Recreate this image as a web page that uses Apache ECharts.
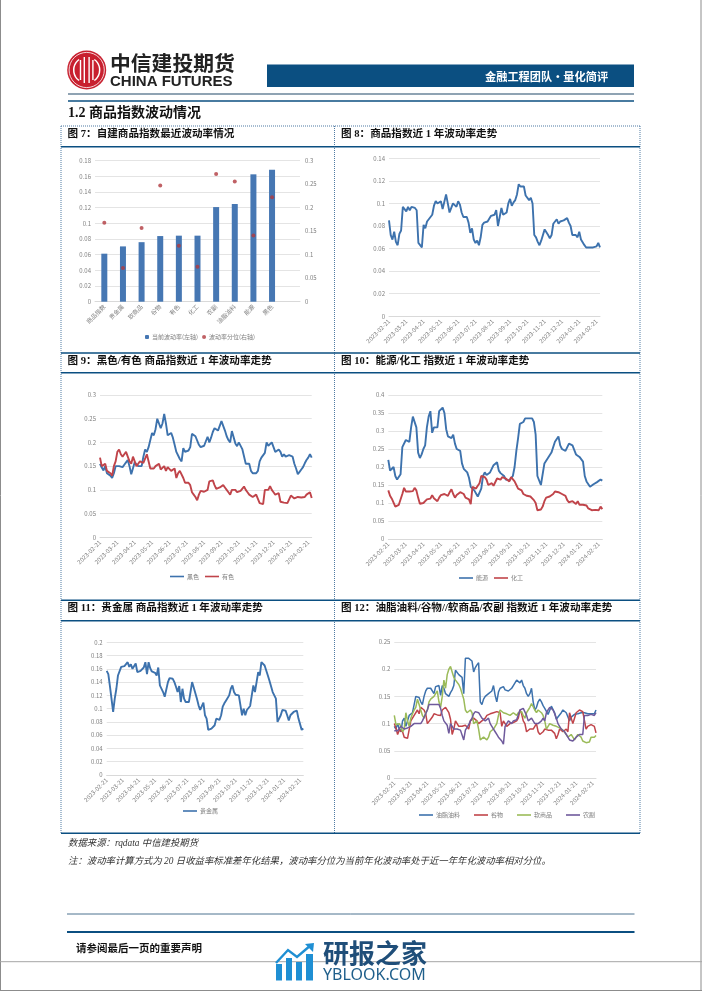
<!DOCTYPE html>
<html>
<head>
<meta charset="utf-8">
<script src="https://cdn.jsdelivr.net/npm/echarts@6/dist/echarts.min.js"></script>
<style>html,body{margin:0;padding:0;background:#fff}#c{width:702px;height:991px}</style>
</head>
<body>
<div id="c"></div>
<script>
// ---------- data ----------
const monthTicks = ['2023-02-21','2023-03-21','2023-04-21','2023-05-21','2023-06-21','2023-07-21','2023-08-21','2023-09-21','2023-10-21','2023-11-21','2023-12-21','2024-01-21','2024-02-21'];
const sectors = ['商品指数','贵金属','软商品','谷物','有色','化工','农副','油脂油料','能源','黑色',''];
const curVol = [0.0613,0.0706,0.076,0.0838,0.0843,0.0843,0.1208,0.1247,0.1626,0.1685,null];
const volPct = [0.168,0.0716,0.157,0.2475,0.119,0.0745,0.2716,0.256,0.141,0.222,null];

const commodity = [
.085,.072,.068,.075,.066,.063,.073,.076,.097,.097,
.093,.097,.094,.097,.096,.096,.094,.065,.063,.061,
.081,.078,.084,.086,.088,.09,.098,.102,.1,.099,
.102,.095,.094,.108,.1,.092,.096,.1,.101,.097,
.102,.099,.092,.088,.088,.088,.083,.074,.078,.068,
.065,.067,.063,.07,.081,.083,.083,.084,.085,.089,
.09,.09,.094,.08,.088,.096,.09,.091,.092,.1,
.104,.098,.101,.103,.108,.117,.115,.114,.115,.107,
.106,.103,.105,.1,.072,.07,.066,.063,.067,.068,
.077,.076,.072,.069,.072,.082,.082,.086,.082,.084,
.085,.085,.085,.087,.083,.08,.072,.071,.072,.07,
.075,.068,.067,.063,.061,.061,.061,.061,.061,.06,
.062,.065,.061];
const black = [
.155,.147,.141,.15,.135,.137,.13,.125,.135,.15,
.152,.15,.146,.148,.153,.158,.163,.15,.133,.137,
.158,.155,.15,.15,.15,.17,.185,.18,.19,.205,
.22,.215,.228,.25,.24,.23,.24,.26,.24,.215,
.213,.22,.21,.195,.18,.18,.165,.16,.188,.18,
.176,.183,.19,.218,.218,.213,.21,.195,.19,.193,
.193,.19,.212,.2,.21,.222,.23,.227,.225,.228,
.245,.245,.225,.213,.205,.2,.224,.22,.198,.192,
.2,.2,.186,.19,.155,.152,.155,.14,.135,.135,
.135,.14,.16,.168,.172,.178,.2,.193,.192,.2,
.19,.18,.176,.185,.18,.17,.175,.17,.168,.173,
.175,.17,.155,.145,.133,.138,.143,.148,.156,.163,
.168,.175,.168];
const nonferrous = [
.168,.15,.148,.155,.14,.14,.135,.13,.15,.16,
.18,.185,.175,.17,.175,.18,.17,.16,.155,.17,
.172,.15,.155,.16,.158,.157,.155,.175,.178,.145,
.148,.145,.15,.15,.155,.143,.145,.15,.14,.148,
.148,.14,.142,.145,.125,.135,.14,.137,.125,.115,
.112,.115,.11,.095,.09,.085,.078,.09,.098,.095,
.096,.097,.1,.118,.117,.12,.11,.102,.105,.105,
.108,.11,.105,.1,.095,.09,.1,.098,.1,.095,
.095,.098,.1,.107,.1,.095,.09,.088,.085,.088,
.09,.088,.072,.068,.07,.1,.098,.1,.108,.1,
.095,.09,.09,.093,.075,.075,.073,.075,.072,.07,
.088,.085,.082,.083,.085,.084,.084,.084,.085,.09,
.094,.095,.083];
const energy = [
.22,.19,.19,.2,.175,.165,.162,.18,.255,.26,
.275,.27,.27,.31,.34,.335,.31,.24,.225,.235,
.25,.26,.31,.34,.355,.295,.31,.315,.31,.355,
.36,.365,.35,.305,.285,.28,.28,.29,.265,.25,
.25,.245,.21,.195,.19,.185,.17,.145,.14,.135,
.13,.118,.118,.14,.175,.185,.178,.18,.185,.19,
.205,.205,.213,.19,.183,.18,.175,.165,.165,.163,
.16,.175,.2,.245,.28,.32,.325,.325,.335,.337,
.335,.335,.335,.325,.29,.175,.178,.15,.15,.21,
.215,.225,.23,.24,.245,.27,.27,.285,.26,.25,
.245,.245,.25,.265,.265,.26,.26,.235,.232,.228,
.228,.215,.175,.16,.16,.145,.15,.152,.155,.158,
.16,.165,.162];
const chemical = [
.135,.12,.112,.11,.09,.092,.095,.1,.125,.142,
.132,.135,.132,.13,.133,.142,.135,.115,.098,.098,
.1,.105,.11,.112,.112,.122,.113,.11,.105,.115,
.122,.122,.125,.125,.12,.13,.138,.125,.115,.122,
.127,.13,.132,.125,.115,.113,.11,.097,.145,.14,
.14,.148,.155,.175,.175,.172,.165,.15,.155,.155,
.148,.145,.168,.168,.165,.172,.172,.168,.163,.16,
.172,.175,.16,.15,.14,.14,.135,.125,.122,.12,
.12,.118,.115,.108,.1,.08,.08,.082,.09,.105,
.115,.11,.118,.12,.125,.132,.13,.13,.127,.125,
.125,.12,.108,.102,.1,.105,.105,.097,.105,.095,
.095,.095,.095,.093,.085,.08,.08,.08,.081,.082,
.08,.09,.083];
const precious = [
.157,.152,.134,.133,.095,.115,.13,.15,.148,.163,
.165,.164,.165,.17,.163,.167,.16,.158,.168,.155,
.157,.157,.158,.162,.17,.152,.17,.161,.156,.155,
.154,.15,.162,.135,.135,.125,.118,.118,.14,.146,
.146,.145,.14,.133,.125,.134,.11,.13,.115,.11,
.11,.11,.125,.14,.132,.13,.115,.105,.098,.097,
.109,.09,.085,.068,.069,.07,.069,.075,.085,.085,
.083,.09,.103,.108,.112,.115,.12,.13,.135,.125,
.121,.12,.12,.105,.09,.1,.09,.098,.1,.104,
.103,.135,.125,.14,.155,.15,.17,.167,.165,.165,
.15,.142,.143,.125,.127,.115,.08,.08,.09,.098,
.098,.097,.09,.082,.09,.093,.095,.096,.097,.085,
.085,.068,.07];
const oilseed = [
.095,.09,.1,.09,.085,.105,.11,.095,.105,.115,
.118,.12,.135,.15,.148,.148,.14,.135,.15,.16,
.165,.165,.165,.165,.155,.168,.17,.17,.152,.17,
.165,.155,.152,.15,.157,.162,.17,.198,.195,.19,
.188,.185,.155,.22,.222,.22,.218,.215,.195,.203,
.208,.212,.14,.135,.145,.15,.153,.155,.152,.16,
.17,.152,.14,.158,.165,.165,.168,.162,.16,.16,
.16,.165,.17,.175,.18,.178,.175,.18,.17,.165,
.155,.15,.155,.165,.14,.125,.13,.14,.145,.14,
.133,.128,.125,.117,.12,.132,.13,.12,.108,.112,
.115,.12,.125,.122,.12,.117,.105,.112,.115,.117,
.12,.118,.12,.12,.12,.12,.119,.118,.115,.118,
.12,.118,.125];
const grain = [
.1,.092,.08,.088,.085,.085,.075,.075,.073,.073,
.105,.11,.115,.118,.125,.118,.13,.13,.125,.118,
.1,.103,.108,.112,.118,.118,.116,.115,.115,.125,
.128,.13,.127,.12,.108,.08,.09,.105,.1,.095,
.095,.095,.095,.097,.1,.09,.105,.108,.11,.108,
.105,.1,.1,.105,.105,.11,.115,.116,.118,.12,
.12,.12,.122,.125,.12,.095,.105,.1,.095,.097,
.1,.1,.102,.105,.105,.11,.125,.118,.105,.1,
.085,.088,.09,.09,.09,.09,.1,.085,.08,.083,
.085,.09,.09,.088,.085,.088,.09,.082,.072,.08,
.09,.088,.085,.087,.09,.085,.12,.11,.1,.11,
.12,.123,.125,.125,.122,.12,.09,.095,.095,.098,
.1,.095,.083];
const soft = [
.115,.098,.095,.1,.095,.085,.09,.12,.105,.095,
.11,.118,.125,.13,.145,.135,.125,.115,.11,.12,
.125,.14,.145,.148,.15,.155,.16,.14,.13,.15,
.18,.165,.19,.2,.205,.195,.185,.18,.178,.172,
.165,.165,.145,.125,.12,.12,.125,.12,.1,.1,
.105,.09,.07,.072,.075,.072,.07,.075,.085,.088,
.09,.095,.1,.115,.125,.122,.12,.12,.118,.115,
.115,.118,.12,.118,.115,.12,.118,.122,.115,.11,
.12,.125,.13,.137,.135,.125,.12,.125,.125,.12,
.115,.105,.09,.09,.1,.1,.097,.095,.095,.095,
.092,.09,.088,.085,.08,.075,.075,.08,.075,.07,
.075,.08,.082,.075,.068,.065,.065,.065,.066,.075,
.072,.075,.078];
const farm = [
.087,.087,.087,.09,.095,.092,.09,.09,.092,.095,
.095,.098,.1,.098,.1,.1,.1,.105,.108,.118,
.125,.135,.135,.135,.135,.135,.135,.135,.128,.115,
.105,.105,.097,.082,.1,.095,.09,.09,.09,.09,
.088,.085,.07,.088,.09,.098,.105,.11,.118,.122,
.122,.12,.115,.11,.108,.105,.105,.11,.1,.095,
.09,.085,.08,.075,.072,.068,.062,.095,.1,.105,
.105,.1,.105,.105,.107,.11,.125,.125,.128,.125,
.115,.105,.105,.11,.105,.1,.1,.1,.1,.105,
.11,.105,.12,.125,.13,.13,.125,.118,.11,.1,
.095,.09,.09,.085,.085,.075,.07,.07,.068,.07,
.075,.078,.08,.08,.08,.115,.115,.115,.115,.117,
.117,.115,.12];

// ten steps per month; labels only at month starts
const dates = [];
for (let i = 0; i < 123; i++) dates.push(i % 10 === 0 ? monthTicks[i / 10] : ' ' + i);

// ---------- style ----------
const NAVY='#0b4f81', GREY='#808080', GRID='#e4e4e4';
const BLUE='#3d72ad', RED='#c0444a', GREEN='#9bbb59', PURPLE='#6f5a9c';
const CJK="'Liberation Serif','Noto Sans CJK SC',sans-serif";
const SANS="'Noto Sans CJK SC',sans-serif";

const panels = [
 {left:95,  top:160.7,w:205,h:141,  max:.18,step:.02},
 {left:389, top:158.3,w:211,h:158,  max:.14,step:.02},
 {left:100, top:395,  w:211.7,h:142.3,max:.3,step:.05},
 {left:388.3,top:395, w:214,h:144,  max:.4, step:.05},
 {left:106.7,top:642.3,w:196.6,h:132.7,max:.2,step:.02},
 {left:394.3,top:642, w:201.7,h:136,max:.25,step:.05}
];
const grids=[], xAxes=[], yAxes=[], series=[];
panels.forEach((p,i)=>{
  grids.push({left:p.left,top:p.top,width:p.w,height:p.h,containLabel:false});
  xAxes.push({type:'category',gridIndex:i,data:i===0?sectors:dates,boundaryGap:i===0,
    axisLine:{lineStyle:{color:'#d9d9d9'}},axisTick:{show:false},
    axisLabel:{rotate:45,fontSize:6,color:GREY,fontFamily:SANS,margin:4,interval:i===0?0:9,hideOverlap:false}});
  yAxes.push({type:'value',gridIndex:i,min:0,max:p.max,interval:p.step,
    axisLine:{show:false},axisTick:{show:false},
    axisLabel:{fontSize:6,color:GREY,fontFamily:SANS,margin:4},
    splitLine:{lineStyle:{color:GRID,width:1}}});
});
yAxes.push({type:'value',gridIndex:0,position:'right',min:0,max:.3,interval:.05,
  axisLine:{show:false},axisTick:{show:false},splitLine:{show:false},
  axisLabel:{fontSize:6,color:GREY,fontFamily:SANS,margin:5}});

series.push({name:'当前波动率(左轴)',type:'bar',xAxisIndex:0,yAxisIndex:0,data:curVol,barWidth:6,itemStyle:{color:'#4677b3'}});
series.push({name:'波动率分位(右轴)',type:'scatter',xAxisIndex:0,yAxisIndex:6,data:volPct,symbolSize:4,itemStyle:{color:'#b0393f'}});
function line(name,idx,data,color,width){
  series.push({name,type:'line',xAxisIndex:idx,yAxisIndex:idx,data,showSymbol:false,symbol:'none',smooth:false,
    lineStyle:{color,width:width||1.9},itemStyle:{color}});
}
line('商品指数波动率',1,commodity,BLUE);
line('黑色',2,black,BLUE); line('有色',2,nonferrous,RED);
line('能源',3,energy,BLUE); line('化工',3,chemical,RED);
line('贵金属',4,precious,BLUE);
line('油脂油料',5,oilseed,BLUE,1.5); line('谷物',5,grain,RED,1.5); line('软商品',5,soft,GREEN,1.5); line('农副',5,farm,PURPLE,1.5);

function lg(names,left,top,w,h,gap,extra){
  return Object.assign({data:names,left,top,itemWidth:w,itemHeight:h,itemGap:gap,padding:0,orient:'horizontal',
    textStyle:{fontSize:6,color:GREY,fontFamily:SANS,padding:[0,0,0,-2]}},extra||{});
}
const legends=[
  lg(['当前波动率(左轴)','波动率分位(右轴)'],145,334,4,4,4),
  lg(['黑色','有色'],170,573.5,14,1.6,6,{icon:'rect'}),
  lg(['能源','化工'],459,575,14,1.6,6,{icon:'rect'}),
  lg(['贵金属'],183,808,14,1.6,6,{icon:'rect'}),
  lg(['油脂油料','谷物','软商品','农副'],419,812,14,1.6,14,{icon:'rect'})
];

// ---------- page furniture ----------
const g=[];
const rect=(x,y,w,h,fill,z)=>g.push({type:'rect',shape:{x,y,width:w,height:h},style:{fill},z:z||1,silent:true});
const seg=(x1,y1,x2,y2,stroke,lw,dash)=>g.push({type:'line',shape:{x1,y1,x2,y2},style:{stroke,lineWidth:lw,lineDash:dash||null},silent:true});
const txt=(x,y,text,font,fill,extra)=>g.push({type:'text',x,y,style:Object.assign({text,font,fill,textVerticalAlign:'middle',verticalAlign:'middle'},extra||{}),silent:true,z:5});

// page edge
seg(0.5,0,0.5,991,'#8c8c8c',1); seg(701,0,701,991,'#8c8c8c',1); seg(0,990.5,702,990.5,'#8c8c8c',1);
seg(0,961.7,702,961.7,'#a6a6a6',1);

// logo
g.push({type:'circle',shape:{cx:86.7,cy:70,r:19.5},style:{fill:'#c8202f'},silent:true,z:2});
g.push({type:'circle',shape:{cx:86.7,cy:70,r:17.6},style:{fill:'none',stroke:'#fff',lineWidth:.8},silent:true,z:3});
[[80.5,60,20],[84.3,57,26],[89.1,57,26],[92.9,60,20]].forEach(b=>rect(b[0]-.7,b[1],1.4,b[2],'#fff',3));
g.push({type:'arc',shape:{cx:86.7,cy:70,r:13,startAngle:Math.PI*.7,endAngle:Math.PI*1.3},style:{fill:'none',stroke:'#fff',lineWidth:1.5},silent:true,z:3});
g.push({type:'arc',shape:{cx:86.7,cy:70,r:13,startAngle:-Math.PI*.3,endAngle:Math.PI*.3},style:{fill:'none',stroke:'#fff',lineWidth:1.5},silent:true,z:3});
seg(72,70,78,70,'#fff',1.3); seg(95.5,70,101,70,'#fff',1.3);
txt(110,63.5,'中信建投期货',"bold 20.8px 'Noto Sans CJK SC'",'#222');
txt(110,81.5,'CHINA FUTURES',"bold 15px 'Liberation Sans'",'#222');

// header band
rect(267,64.5,367,22.5,NAVY);
txt(485,77,'金融工程团队·量化简评',"bold 11.2px 'Noto Sans CJK SC'",'#fff');
seg(68,94,634,94,'#8fa3b3',2); seg(68,101,634,101,NAVY,1.5);
txt(68,113,'1.2 商品指数波动情况',"bold 14px "+CJK,'#111');

// figure frame
const DOT='#4f7aa3';
seg(61,126,640,126,DOT,1,[1,1]); seg(61,126,61,833,DOT,1,[1,1]); seg(640,126,640,833,DOT,1,[1,1]); seg(334.5,126,334.5,833,DOT,1,[1,1]);
[146.7,353,372.7,600.3,620.7,833.3].forEach(y=>seg(61,y,640,y,NAVY,1.4));
const TF="bold 10.6px "+CJK;
txt(67.5,134.3,'图 7：自建商品指数最近波动率情况',TF,'#111');
txt(341,134.3,'图 8：商品指数近 1 年波动率走势',TF,'#111');
txt(67.5,361,'图 9：黑色/有色 商品指数近 1 年波动率走势',TF,'#111');
txt(341,361,'图 10：能源/化工 指数近 1 年波动率走势',TF,'#111');
txt(67.5,608.7,'图 11：贵金属 商品指数近 1 年波动率走势',TF,'#111');
txt(341,608.7,'图 12：油脂油料/谷物//软商品/农副 指数近 1 年波动率走势',TF,'#111');

// notes
txt(68,843.5,'数据来源：rqdata 中信建投期货',"italic 9.4px "+CJK,'#333');
txt(68,861.7,'注：波动率计算方式为 20 日收益率标准差年化结果，波动率分位为当前年化波动率处于近一年年化波动率相对分位。',"italic 9.4px "+CJK,'#333');

// footer
seg(67,914,634.5,914,'#4d7290',1); seg(67,932,634.5,932,NAVY,1.8);
txt(76,948.3,'请参阅最后一页的重要声明',"bold 10.5px 'Noto Sans CJK SC'",'#111');

// watermark
const WB='#1f8fd3';
rect(276,964,6,16.5,WB,6); rect(286,958,6,22.5,WB,6); rect(296,962,6,18.5,WB,6); rect(306,954,7,26.5,WB,6);
g.push({type:'polyline',shape:{points:[[276,963],[288,950],[297,957],[311,945]]},style:{fill:'none',stroke:WB,lineWidth:2.4},silent:true,z:6});
g.push({type:'polygon',shape:{points:[[305,944],[314,943],[313,952]]},style:{fill:WB},silent:true,z:6});
txt(323,953,'研报之家',"bold 26px 'Noto Sans CJK SC'",'#1f4e79');
txt(323,975.7,'YBLOOK.COM',"16px 'Noto Sans'",'#1f5f8b');

echarts.init(document.getElementById('c'),null,{renderer:'canvas'}).setOption({
  animation:false,backgroundColor:'#fff',
  grid:grids,xAxis:xAxes,yAxis:yAxes,legend:legends,series,graphic:g
});
</script>
</body>
</html>
